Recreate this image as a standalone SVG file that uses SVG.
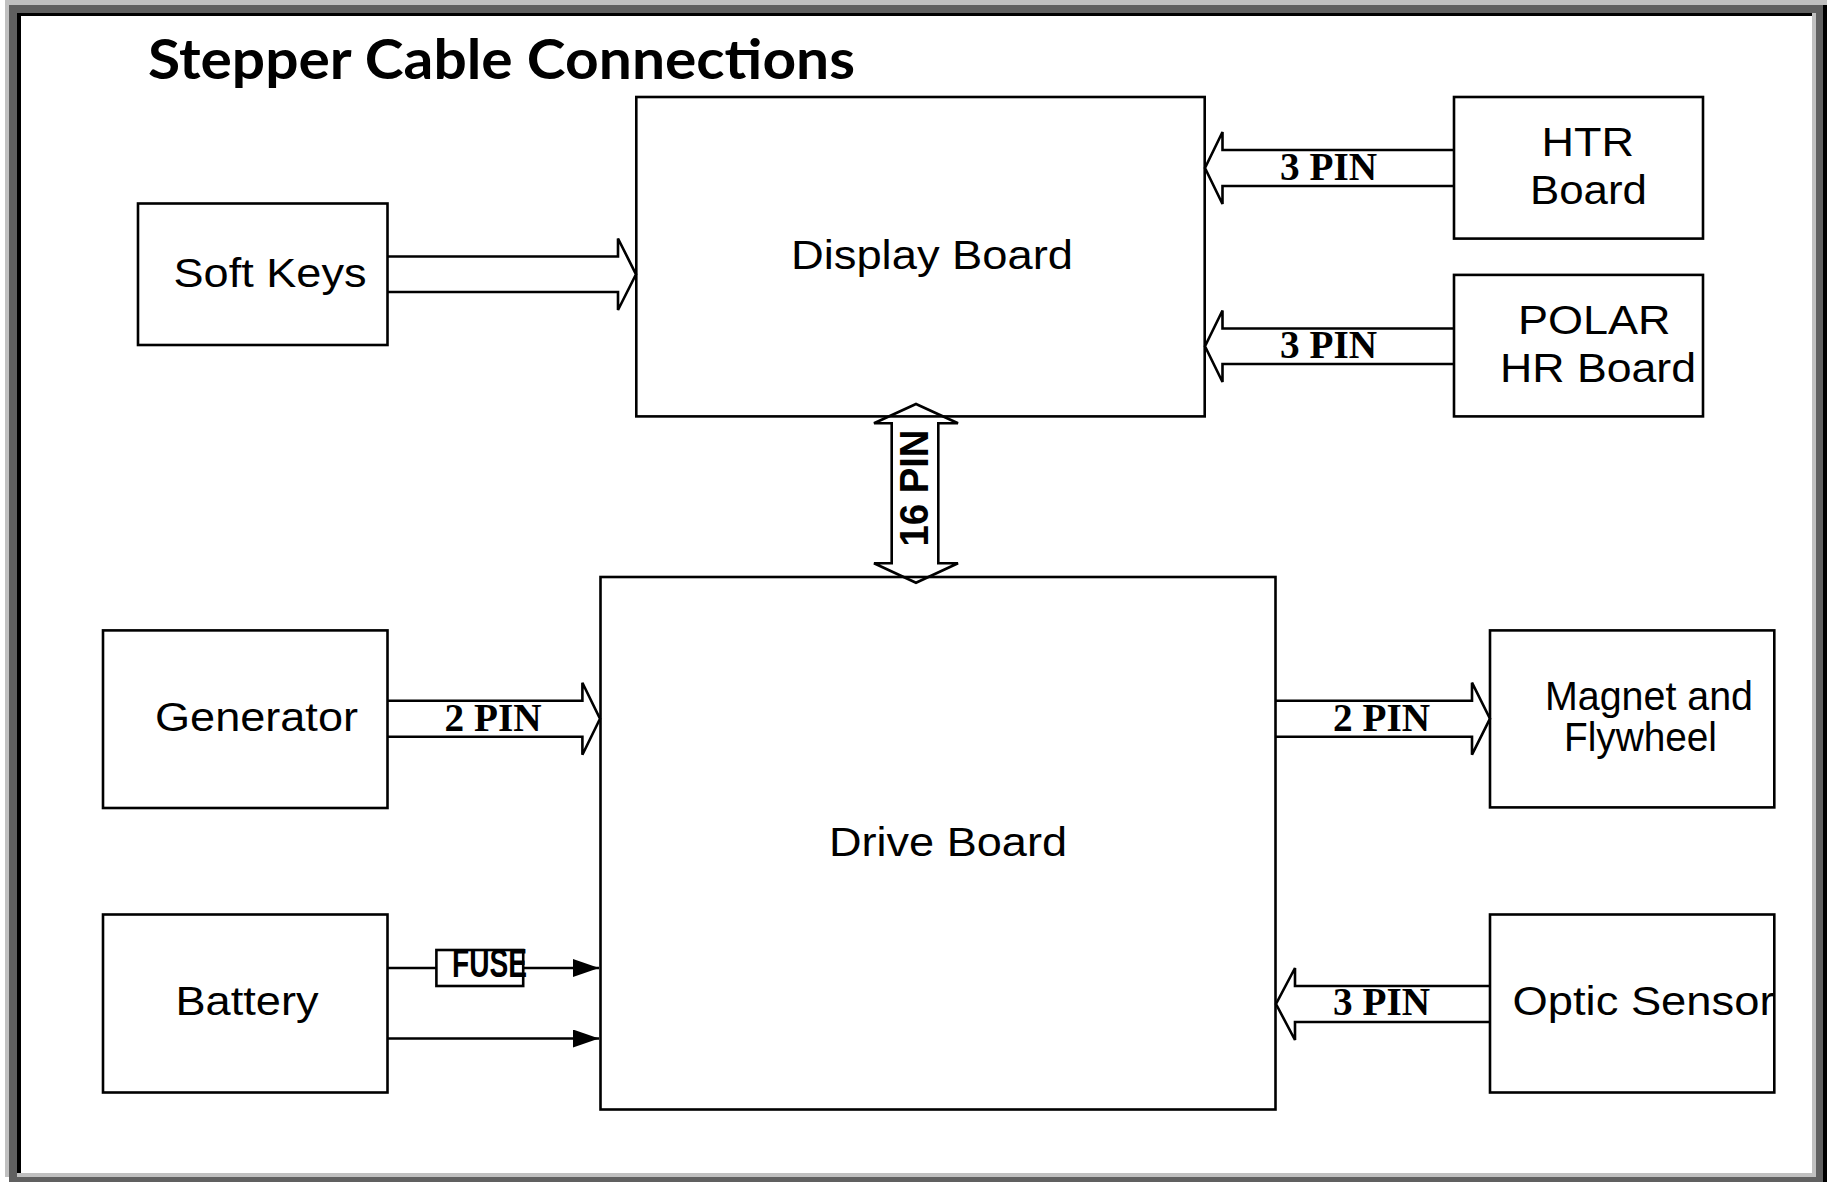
<svg xmlns="http://www.w3.org/2000/svg" width="1834" height="1182" viewBox="0 0 1834 1182">
<defs>
<style>
.box{fill:none;stroke:#000;stroke-width:2.6}
.conn{fill:#fff;stroke:#000;stroke-width:2.6;stroke-linejoin:miter}
.line{fill:none;stroke:#000;stroke-width:2.6}
.lbl{font-family:"Liberation Sans",Arial,sans-serif;font-size:40px;fill:#000}
.pin{font-family:"Liberation Serif","Times New Roman",serif;font-size:40px;font-weight:bold;fill:#000}
.title{font-family:Lato,"Liberation Sans",sans-serif;font-size:56px;font-weight:bold;fill:#000}
</style>
<marker id="tri" viewBox="0 0 26 18" refX="26" refY="9" markerWidth="26" markerHeight="18" markerUnits="userSpaceOnUse" orient="auto">
<path d="M0,0 L26,9 L0,18 Z" fill="#000"/>
</marker>
</defs>
<g id="frame">
<rect x="0" y="0" width="1834" height="1182" fill="#fff"/>
<rect x="5" y="0" width="1822" height="1177" fill="#c0c0c0"/>
<rect x="13" y="5" width="1814" height="1177" fill="#000"/>
<rect x="9" y="5" width="1814" height="1177" fill="#606060"/>
<rect x="17" y="13" width="1799" height="1164" fill="#c0c0c0"/>
<rect x="17" y="13" width="1795" height="1160" fill="#000"/>
<rect x="21" y="16" width="1791" height="1157" fill="#fff"/>
</g>
<text class="title" x="148" y="79" textLength="707" lengthAdjust="spacingAndGlyphs">Stepper Cable Connections</text>
<g id="connectors">
<path class="conn" d="M387.5,256.5 H618 V238.5 L636,274.3 L618,310 V292 H387.5"/>
<path class="conn" d="M1454,150 H1222.5 V132 L1205,168 L1222.5,204 V186 H1454"/>
<path class="conn" d="M1454,328.5 H1222.5 V310.5 L1205,346.3 L1222.5,382 V364 H1454"/>
<path class="conn" d="M916,404 L958,423.3 H938.3 V563.3 H958 L916,582.7 L874,563.3 H891.7 V423.3 H874 Z"/>
<path class="conn" d="M387.5,700.7 H582.4 V682.7 L600,718.7 L582.4,754.7 V736.7 H387.5"/>
<path class="conn" d="M1275.5,700.7 H1472 V682.7 L1490,718.7 L1472,754.7 V736.7 H1275.5"/>
<path class="conn" d="M1490,986 H1295 V968 L1276,1004 L1295,1040 V1022 H1490"/>
<path class="line" d="M387.5,968 H436.4"/>
<path class="line" d="M523.2,968 H599" marker-end="url(#tri)"/>
<path class="line" d="M387.5,1038.5 H599" marker-end="url(#tri)"/>
<text class="pin" x="1280" y="180" textLength="97" lengthAdjust="spacingAndGlyphs">3 PIN</text>
<text class="pin" x="1280" y="358" textLength="97" lengthAdjust="spacingAndGlyphs">3 PIN</text>
<text class="lbl" transform="translate(928,488) rotate(-90)" text-anchor="middle" font-weight="bold" font-size="37" textLength="117" lengthAdjust="spacingAndGlyphs">16 PIN</text>
<text class="pin" x="444.5" y="731" textLength="97" lengthAdjust="spacingAndGlyphs">2 PIN</text>
<text class="pin" x="1333" y="731" textLength="97" lengthAdjust="spacingAndGlyphs">2 PIN</text>
<text class="pin" x="1333" y="1015" textLength="97" lengthAdjust="spacingAndGlyphs">3 PIN</text>
</g>
<g id="display-board">
<rect class="box" x="636.3" y="97" width="568.4" height="319.4"/>
<text class="lbl" x="791" y="269" textLength="282" lengthAdjust="spacingAndGlyphs">Display Board</text>
</g>
<g id="soft-keys">
<rect class="box" x="138" y="203.5" width="249.5" height="141.5"/>
<text class="lbl" x="173.5" y="287" textLength="193" lengthAdjust="spacingAndGlyphs">Soft Keys</text>
</g>
<g id="htr-board">
<rect class="box" x="1454" y="97" width="249" height="141.6"/>
<text class="lbl" x="1541.5" y="155.5" textLength="92.5" lengthAdjust="spacingAndGlyphs">HTR</text>
<text class="lbl" x="1530" y="203.5" textLength="117" lengthAdjust="spacingAndGlyphs">Board</text>
</g>
<g id="polar-hr-board">
<rect class="box" x="1454" y="274.9" width="249" height="141.5"/>
<text class="lbl" x="1518" y="334" textLength="152.5" lengthAdjust="spacingAndGlyphs">POLAR</text>
<text class="lbl" x="1500" y="382" textLength="196" lengthAdjust="spacingAndGlyphs">HR Board</text>
</g>
<g id="drive-board">
<rect class="box" x="600.5" y="577" width="675" height="532.5"/>
<text class="lbl" x="829" y="856" textLength="238" lengthAdjust="spacingAndGlyphs">Drive Board</text>
</g>
<g id="generator">
<rect class="box" x="103" y="630.4" width="284.5" height="177.6"/>
<text class="lbl" x="155" y="731" textLength="203" lengthAdjust="spacingAndGlyphs">Generator</text>
</g>
<g id="magnet-flywheel">
<rect class="box" x="1490" y="630.4" width="284.3" height="177"/>
<text class="lbl" font-size="33" x="1545" y="710" textLength="208" lengthAdjust="spacingAndGlyphs">Magnet and</text>
<text class="lbl" font-size="33" x="1564" y="751" textLength="153" lengthAdjust="spacingAndGlyphs">Flywheel</text>
</g>
<g id="battery">
<rect class="box" x="103" y="914.5" width="284.5" height="178"/>
<text class="lbl" x="175.5" y="1015" textLength="143" lengthAdjust="spacingAndGlyphs">Battery</text>
</g>
<g id="fuse">
<rect class="box" x="436.4" y="950" width="86.8" height="36"/>
<text class="lbl" font-size="22" font-weight="bold" x="452" y="976.5" textLength="75" lengthAdjust="spacingAndGlyphs">FUSE</text>
</g>
<g id="optic-sensor">
<rect class="box" x="1490" y="914.5" width="284.3" height="178"/>
<text class="lbl" x="1512.5" y="1015" textLength="262" lengthAdjust="spacingAndGlyphs">Optic Sensor</text>
</g>
</svg>
